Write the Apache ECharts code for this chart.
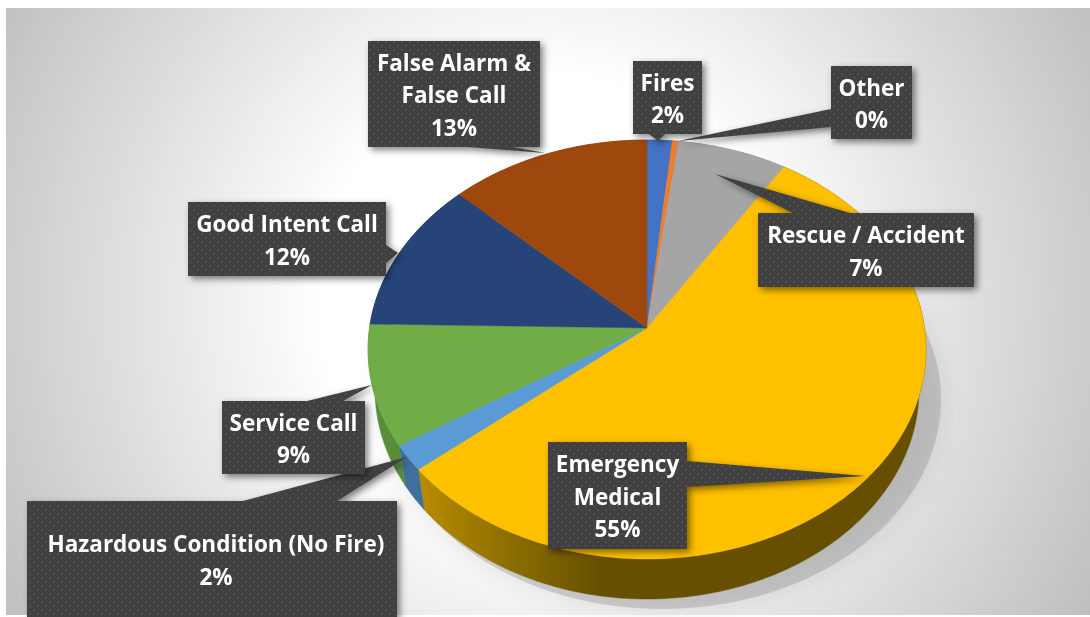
<!DOCTYPE html>
<html><head><meta charset="utf-8">
<style>html,body{margin:0;padding:0;background:#fff}#c{width:1090px;height:617px}</style>
<script src="https://cdn.jsdelivr.net/npm/echarts@6/dist/echarts.min.js"></script>
</head><body><div id="c"></div>
<script>
const categories = ['Fires','Other','Rescue / Accident','Emergency Medical','Hazardous Condition (No Fire)','Service Call','Good Intent Call','False Alarm & False Call'];
const values = [1.6,0.4,7,55,2,9.3,11.8,12.9];
const faceColors = ['#4472C4','#ED7D31','#A5A5A5','#FFC000','#5B9BD5','#70AD47','#264478','#9E480E'];
const wallColors = ['#2f5597','#a4561f','#737373',null,'#3F709C','#5A8D39','#1a2f54','#6e320a'];
const labelLines = [['Fires'],['Other'],['Rescue / Accident'],['Emergency','Medical'],['Hazardous Condition (No Fire)'],['Service Call'],['Good Intent Call'],['False Alarm &','False Call']];

// pie projection
const CX=647, CY=328, RX=277.5, A=207.3, K=0.1026, DEPTH=40, SHRINK=0.975;
const total = values.reduce((a,b)=>a+b,0);
const starts=[]; values.reduce((acc,v,i)=>{starts[i]=acc;return acc+v;},0);
const proj=(t,d)=>{const s=Math.sin(t),c=Math.cos(t),w=1+K*c;
  return [CX+RX*s/w*(d?SHRINK:1), CY-A*c/w+(d?DEPTH:0)];};
const arc=(a,b,d)=>{const n=Math.max(2,Math.ceil((b-a)*90)),p=[];for(let i=0;i<=n;i++)p.push(proj(a+(b-a)*i/n,d));return p;};
const ang=i=>[starts[i]/total*Math.PI*2,(starts[i]+values[i])/total*Math.PI*2];

// callout layout: box x,y,w,h; side of wedge base; base a,b on that side; tip
const layout=[
 {box:[633,61,69,73],side:'b',base:[649,665],tip:[658,141]},
 {box:[831,66,81,73],side:'l',base:[109,127],tip:[678,141]},
 {box:[758,213,216,74],side:'t',base:[793,850],tip:[715,174]},
 {box:[548,442,139,107],side:'r',base:[461,487],tip:[865,476]},
 {box:[27,501,370,116],side:'t',base:[243,337],tip:[407,457],dx:4},
 {box:[222,401,143,73],side:'t',base:[307,343],tip:[372,385]},
 {box:[188,202,198,74],side:'r',base:[245,263],tip:[398,253]},
 {box:[368,41,172,106],side:'b',base:[468,513],tip:[545,153]}
];
const calloutPoly=l=>{const [x,y,w,h]=l.box,[a,b]=l.base,t=l.tip;
 if(l.side==='b')return [[x,y],[x+w,y],[x+w,y+h],[b,y+h],t,[a,y+h],[x,y+h]];
 if(l.side==='t')return [[x,y],[a,y],t,[b,y],[x+w,y],[x+w,y+h],[x,y+h]];
 if(l.side==='l')return [[x,y],[x+w,y],[x+w,y+h],[x,y+h],[x,b],t,[x,a]];
 return [[x,y],[x+w,y],[x+w,a],t,[x+w,b],[x+w,y+h],[x,y+h]];};

// dotted texture
const tile=document.createElement('canvas');tile.width=8;tile.height=8;
const g=tile.getContext('2d');g.fillStyle='#404040';g.fillRect(0,0,8,8);
g.fillStyle='#4e4e4e';g.fillRect(1,1,2,2);g.fillRect(5,5,2,2);

const none={coordinateSystem:'none',type:'custom',silent:true,animation:false,clip:false};
const emergencyWall=new echarts.graphic.LinearGradient(410,0,600,0,[
 {offset:0,color:'#BD8F00'},{offset:.55,color:'#8A6C00'},{offset:1,color:'#665000'}],true);

const option={
 animation:false,
 graphic:[{type:'rect',z:0,silent:true,shape:{x:6,y:8,width:1084,height:607},
   style:{fill:new echarts.graphic.RadialGradient(545,300,640,[
     {offset:0,color:'#ffffff'},{offset:.35,color:'#ffffff'},{offset:1,color:'#bdbdbd'}],true)}}],
 series:[
  Object.assign({},none,{z:1,data:[total],renderItem(){
    const p=[];const n=180;for(let i=0;i<n;i++){const q=proj(i/n*2*Math.PI,false);p.push([q[0]+15,q[1]+50]);}
    return {type:'polygon',shape:{points:p},style:{fill:'rgba(130,130,130,.32)',shadowBlur:26,shadowColor:'rgba(100,100,100,.5)'}};
  }}),
  Object.assign({},none,{z:2,data:values,renderItem(par){
    const i=par.dataIndex,[a,b]=ang(i);
    const pts=arc(a,b,false).concat(arc(a,b,true).reverse());
    const fill=wallColors[i]||emergencyWall;
    return {type:'polygon',shape:{points:pts},style:{fill,stroke:fill,lineWidth:.5}};
  }}),
  Object.assign({},none,{z:3,data:values,renderItem(par){
    const i=par.dataIndex,[a,b]=ang(i);
    const pts=[[CX,CY]].concat(arc(a,b,false));
    return {type:'polygon',shape:{points:pts},style:{fill:faceColors[i],stroke:faceColors[i],lineWidth:.4}};
  }}),
  Object.assign({},none,{z:4,data:values,renderItem(par){
    const i=par.dataIndex,l=layout[i],[x,y,w,h]=l.box;
    const lines=labelLines[i].concat([Math.round(values[i]/total*100)+'%']);
    return {type:'group',children:[
      {type:'polygon',shape:{points:calloutPoly(l)},style:{fill:{image:tile,repeat:'repeat'},
        shadowBlur:7,shadowOffsetX:3,shadowOffsetY:3,shadowColor:'rgba(0,0,0,.5)'}},
      {type:'text',x:x+w/2+(l.dx||0),y:y+h/2+3,style:{text:lines.join('\n'),fill:'#fff',
        font:'700 22.5px "Open Sans"',lineHeight:32.5,align:'center',verticalAlign:'middle'}}
    ]};
  }})
 ]
};
const chart=echarts.init(document.getElementById('c'),null,{renderer:'canvas',width:1090,height:617});
chart.setOption(option);
</script></body></html>
